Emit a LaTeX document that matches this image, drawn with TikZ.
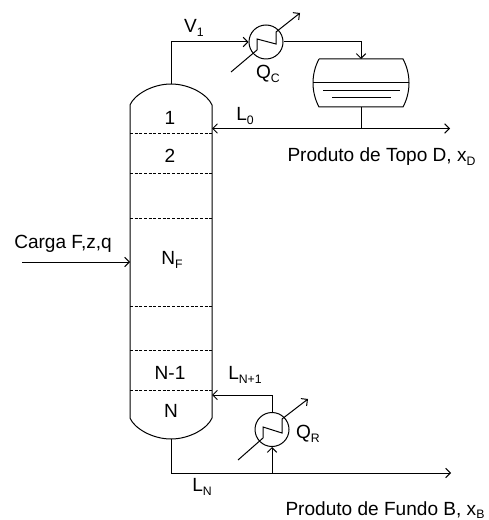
\documentclass[tikz,border=0pt]{standalone}
\usepackage{fontspec}
\setmainfont{Liberation Sans}
\usetikzlibrary{arrows.meta}
\newcommand{\subtxt}[1]{\raisebox{-0.32ex}{\fontsize{9.2}{10}\selectfont #1}}
\tikzset{
	barb/.style={-{Straight Barb[length=3.5pt,width=7pt]}},
	tray/.style={line width=0.5pt, dash pattern=on 2.2pt off 1.3pt},
	exch/.style={draw, circle, fill=none, inner sep=0pt, minimum size=25.5pt},
	lbl/.style={font=\fontsize{14.3}{16}\selectfont, inner sep=0pt}
}
\begin{document}
\begin{tikzpicture}[x=0.75pt, y=-0.75pt, line width=0.75pt, line join=miter]
			%%%%% START %%%%%
			\useasboundingbox (0, 0) rectangle (488, 520);
			
			\coordinate (coltop) at (171, 84);
			\coordinate (colbot) at (171, 439);
			\coordinate (feedin) at (22, 262);
			\coordinate (feedcol) at (130, 262);
			\coordinate (refluxcol) at (212, 128.5);
			\coordinate (reboilcol) at (212, 395);
			\coordinate (druminlet) at (361, 59);
			\coordinate (drumoutlet) at (361, 107);
			\coordinate (drumtee) at (361, 128.5);
			\coordinate (topout) at (450, 128.5);
			\coordinate (bottee) at (272, 473);
			\coordinate (botout) at (451, 473);
			
			\node[exch] (cond) at (266, 42) {};
			\node[exch] (reb) at (272, 429.5) {};
			
			% column
			\draw (130, 302) -- (130, 105) .. controls (134, 95) and (152, 84) .. (coltop) .. controls (190, 84) and (208, 95) .. (212, 105) -- (212, 418) .. controls (208, 428) and (190, 439) .. (colbot) .. controls (152, 439) and (134, 428) .. (130, 418) -- (130, 302);
			\draw[tray] (130, 133) -- (212, 133);
			\draw[tray] (130, 173.5) -- (212, 173.5);
			\draw[tray] (130, 218) -- (212, 218);
			\draw[tray] (130, 306) -- (212, 306);
			\draw[tray] (130, 350) -- (212, 350);
			\draw[tray] (130, 390) -- (212, 390);
			
			% drum
			\draw (319, 59) -- (403, 59) .. controls (411, 74) and (411, 92) .. (403, 107) -- (319, 107) .. controls (311, 92) and (311, 74) .. (319, 59);
			\draw (313, 82.5) -- (409, 82.5);
			\draw (323, 91) -- (400, 91);
			\draw (332, 98) -- (391, 98);
			
			% coils
			\draw[barb] (231, 72) -- (257, 50) -- (257, 39) -- (276, 44) -- (276, 32) -- (300, 13);
			\draw[barb] (238, 460) -- (263, 438) -- (263, 427) -- (282, 433) -- (282, 419) -- (308, 399);
			
			% streams
			\draw[barb] (coltop) |- (cond.west);
			\draw[barb] (cond.east) -| (druminlet);
			\draw (drumoutlet) -- (drumtee);
			\draw[barb] (drumtee) -- (refluxcol);
			\draw[barb] (drumtee) -- (topout);
			\draw[barb] (feedin) -- (feedcol);
			\draw[barb] (colbot) |- (botout);
			\draw[barb] (bottee) -- (reb.south);
			\draw[barb] (reb.north) |- (reboilcol);
			
			% labels
			\node[lbl] (lv) at (194, 28) {V\subtxt{1}};
			\node[lbl] (lqc) at (268, 74) {Q\subtxt{C}};
			\node[lbl] (lone) at (170, 118) {1};
			\node[lbl] (ltwo) at (170, 156) {2};
			\node[lbl] (lnf) at (172, 260) {N\subtxt{F}};
			\node[lbl] (lnm) at (170, 373) {N-1};
			\node[lbl] (ln) at (171, 411) {N};
			\node[lbl] (llz) at (245, 116) {L\subtxt{0}};
			\node[lbl] (llnp) at (245, 375) {L\subtxt{N+1}};
			\node[lbl] (lln) at (202, 487) {L\subtxt{N}};
			\node[lbl] (lqr) at (308, 434) {Q\subtxt{R}};
			\node[lbl] (lfeed) at (63, 244) {Carga F,z,q};
			\node[lbl, anchor=west] (ltop) at (287, 157) {Produto de Topo D, x\subtxt{D}};
			\node[lbl, anchor=west] (lbot) at (285, 510) {Produto de Fundo B, x\subtxt{B}};
			%%%%% END %%%%%
		\end{tikzpicture}
\end{document}
